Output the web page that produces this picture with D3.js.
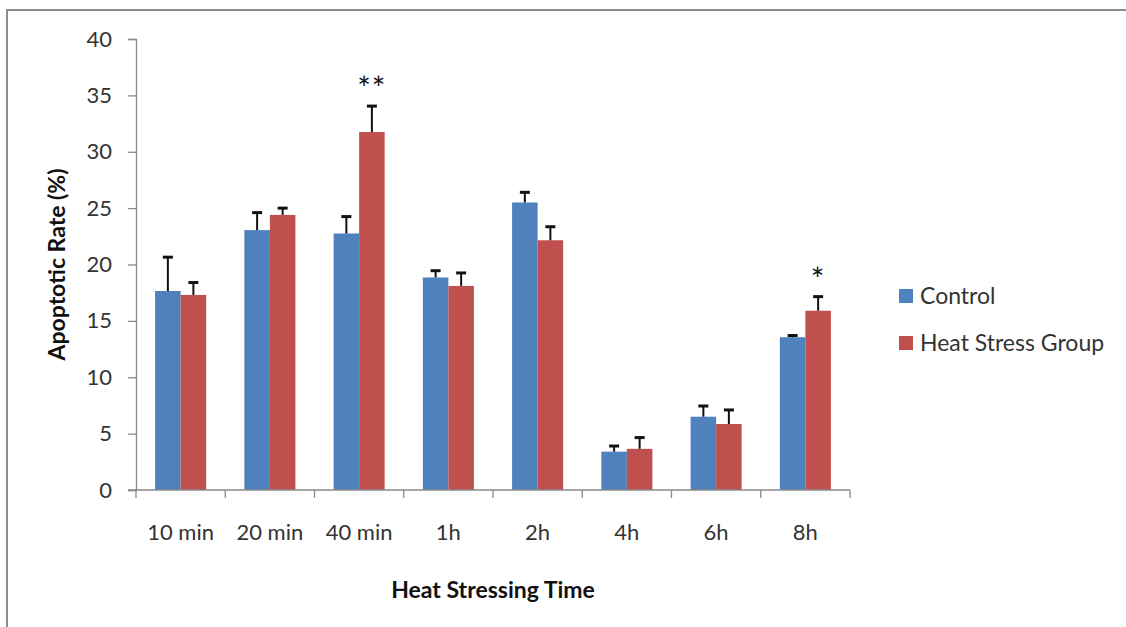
<!DOCTYPE html>
<html><head><meta charset="utf-8">
<script src="https://cdn.jsdelivr.net/npm/d3@7"></script>
<style>body{margin:0;background:#fff;} svg{display:block;}</style>
</head><body>
<script>
const categories = ["10 min","20 min","40 min","1h","2h","4h","6h","8h"];
const seriesNames = ["Control","Heat Stress Group"];
const controlValues = [17.65, 23.05, 22.75, 18.85, 25.5, 3.4, 6.5, 13.55];
const controlErrors = [3.0, 1.55, 1.5, 0.6, 0.9, 0.5, 0.95, 0.15];
const heatValues = [17.3, 24.4, 31.75, 18.1, 22.15, 3.65, 5.85, 15.9];
const heatErrors = [1.1, 0.6, 2.3, 1.15, 1.2, 1.0, 1.25, 1.25];
const significance = ["", "", "**", "", "", "", "", "*"];
const yTicks = [0,5,10,15,20,25,30,35,40];
const colors = ["#4F81BD","#C0504D"];
const font = "Lato, 'Open Sans', sans-serif";

const W = 1126, H = 627;
const svg = d3.select("body").append("svg").attr("width", W).attr("height", H);
svg.append("rect").attr("x",7).attr("y",10).attr("width",W+10).attr("height",H+10)
  .attr("fill","#fff").attr("stroke","#8c8c8c").attr("stroke-width",2);

const plot = {left:136, right:850, top:39, bottom:490};
const x = d3.scaleBand().domain(categories).range([plot.left, plot.right]).paddingInner(0).paddingOuter(0);
const y = d3.scaleLinear().domain([0,40]).range([plot.bottom, plot.top]);
const groupW = x.bandwidth()*0.572;
const xs = d3.scaleBand().domain(seriesNames).range([0, groupW]);

const data = categories.map((c,i)=>({cat:c, sig:significance[i], vals:[
  {s:seriesNames[0], v:controlValues[i], e:controlErrors[i], c:colors[0]},
  {s:seriesNames[1], v:heatValues[i], e:heatErrors[i], c:colors[1]}]}));

// axes
const yAxis = svg.append("g").attr("transform",`translate(${plot.left},0)`)
  .call(d3.axisLeft(y).tickValues(yTicks).tickSize(8).tickPadding(16));
yAxis.select(".domain").attr("stroke","#8a8a8a").attr("stroke-width",1.3);
yAxis.selectAll(".tick line").attr("stroke","#8a8a8a").attr("stroke-width",1.3);
yAxis.selectAll("text").attr("font-family",font).attr("font-size",22).attr("fill","#333");

const g = svg.append("g");
const groups = g.selectAll("g.grp").data(data).join("g")
  .attr("transform", d=>`translate(${x(d.cat)+(x.bandwidth()-groupW)/2},0)`);
groups.selectAll("rect").data(d=>d.vals).join("rect")
  .attr("x", d=>xs(d.s)).attr("width", xs.bandwidth())
  .attr("y", d=>y(d.v)).attr("height", d=>y(0)-y(d.v)).attr("fill", d=>d.c);
groups.selectAll("line.err").data(d=>d.vals).join("line").attr("class","err")
  .attr("x1", d=>xs(d.s)+xs.bandwidth()/2).attr("x2", d=>xs(d.s)+xs.bandwidth()/2)
  .attr("y1", d=>y(d.v)).attr("y2", d=>y(d.v+d.e)).attr("stroke","#111").attr("stroke-width",2);
groups.selectAll("line.cap").data(d=>d.vals).join("line").attr("class","cap")
  .attr("x1", d=>xs(d.s)+xs.bandwidth()/2-5).attr("x2", d=>xs(d.s)+xs.bandwidth()/2+5)
  .attr("y1", d=>y(d.v+d.e)).attr("y2", d=>y(d.v+d.e)).attr("stroke","#111").attr("stroke-width",3);
groups.filter(d=>d.sig).append("text")
  .attr("x", d=>xs(seriesNames[1])+xs.bandwidth()/2)
  .attr("y", d=>y(d.vals[1].v+d.vals[1].e)-6)
  .attr("text-anchor","middle").attr("font-family",font).attr("font-size",32).attr("fill","#111")
  .attr("letter-spacing",1)
  .text(d=>d.sig);

// x axis
const xAxisG = svg.append("g").attr("transform",`translate(0,${plot.bottom})`);
xAxisG.append("line").attr("x1",plot.left-8).attr("x2",plot.right).attr("stroke","#8a8a8a").attr("stroke-width",1.3);
const boundaries = categories.map(c=>x(c)).concat([x(categories[categories.length-1])+x.bandwidth()]);
xAxisG.selectAll("line.tk").data(boundaries).join("line").attr("class","tk")
  .attr("x1",d=>d).attr("x2",d=>d).attr("y1",0).attr("y2",8).attr("stroke","#8a8a8a").attr("stroke-width",1.3);
xAxisG.selectAll("text").data(categories).join("text")
  .attr("x",d=>x(d)+x.bandwidth()/2).attr("y",50).attr("text-anchor","middle")
  .attr("font-family",font).attr("font-size",22).attr("fill","#333").text(d=>d);

// titles
svg.append("text").attr("x",(plot.left+plot.right)/2).attr("y",598).attr("text-anchor","middle")
  .attr("font-family",font).attr("font-weight","bold").attr("font-size",23).attr("fill","#111")
  .text("Heat Stressing Time");
svg.append("text").attr("transform",`translate(65,${(plot.top+plot.bottom)/2}) rotate(-90)`)
  .attr("text-anchor","middle").attr("font-family",font).attr("font-weight","bold").attr("font-size",23).attr("fill","#111")
  .text("Apoptotic Rate (%)");

// legend
const leg = svg.append("g").attr("transform","translate(899,289)");
const li = leg.selectAll("g").data(seriesNames).join("g").attr("transform",(d,i)=>`translate(0,${i*47})`);
li.append("rect").attr("width",14).attr("height",14).attr("fill",(d,i)=>colors[i]);
li.append("text").attr("x",21).attr("y",15).attr("font-family",font).attr("font-size",23).attr("fill","#333").text(d=>d);
</script>
</body></html>
